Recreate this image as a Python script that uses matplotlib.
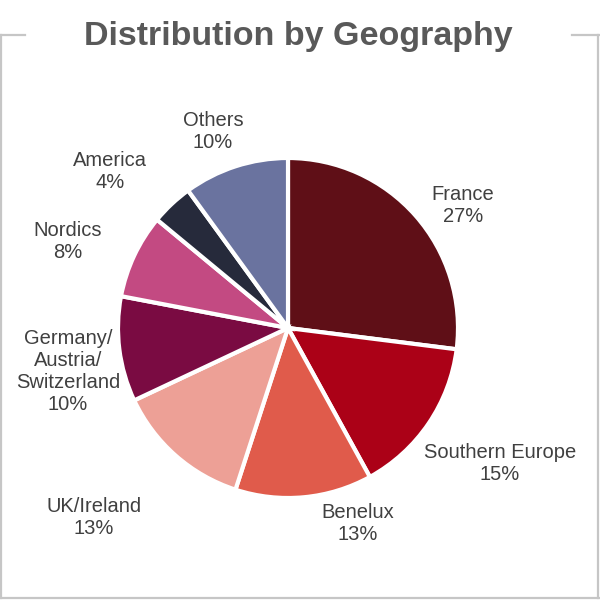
import matplotlib
matplotlib.use("Agg")
import matplotlib.pyplot as plt
from matplotlib.lines import Line2D

plt.rcParams['font.family'] = ['Liberation Sans', 'DejaVu Sans']

# data
regions = ["France", "Southern Europe", "Benelux", "UK/Ireland",
           "Germany/\nAustria/\nSwitzerland", "Nordics", "America", "Others"]
shares = [27, 15, 13, 13, 10, 8, 4, 10]
colors = ["#5f0f17", "#ab0117", "#e05b4b", "#eda096",
          "#7a0b42", "#c34a82", "#262a3b", "#6a739f"]

# label centres in pixel space (x right, y up)
label_pos = [(463, 395), (500, 137), (358, 77), (94, 83),
             (68, 228), (68, 359), (110, 428), (213, 469)]

fig = plt.figure(figsize=(6, 6), dpi=100)
ax = fig.add_axes([0, 0, 1, 1])

ax.pie(shares, colors=colors, startangle=90, counterclock=False,
       center=(288, 272), radius=170, frame=True,
       wedgeprops=dict(edgecolor="white", linewidth=3))
ax.set_xlim(0, 600)
ax.set_ylim(0, 600)
ax.set_aspect("equal")
ax.axis("off")

for name, val, (x, y) in zip(regions, shares, label_pos):
    ax.text(x, y, f"{name}\n{val}%", ha="center", va="center",
            fontsize=14.5, color="#404040", linespacing=1.2)

ax.text(298, 555, "Distribution by Geography", ha="center", va="baseline",
        fontsize=24.5, fontweight="bold", color="#595959")

# frame around the chart, open at the title
border = "#c6c6c6"
for xs, ys in [([0, 25], [565, 565]), ([572, 600], [565, 565]),
               ([1, 1], [565, 2]), ([598, 598], [565, 2]), ([0, 600], [2, 2])]:
    fig.add_artist(Line2D([v / 600 for v in xs], [v / 600 for v in ys],
                          color=border, linewidth=1.6))

fig.savefig("out.png", dpi=100)
